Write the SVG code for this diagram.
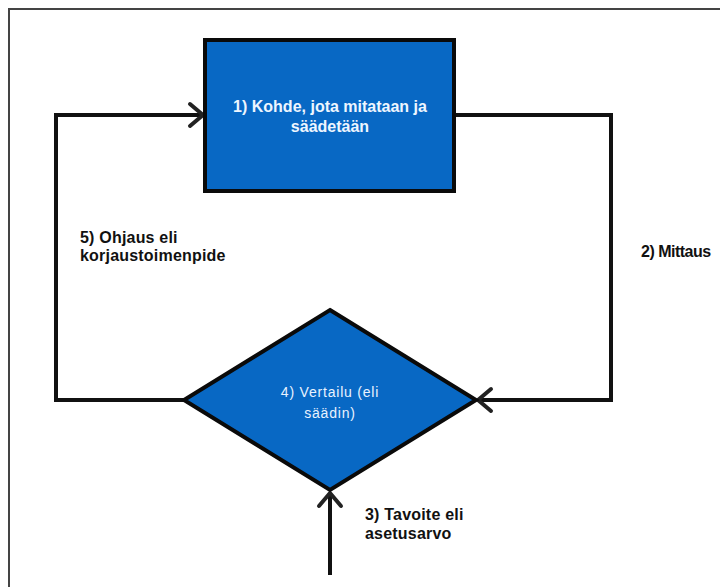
<svg xmlns="http://www.w3.org/2000/svg" width="720" height="587" viewBox="0 0 720 587">
<style>
.conn{fill:none;stroke:#111;stroke-width:4;stroke-linejoin:miter}
.head{fill:none;stroke:#222;stroke-width:4;stroke-linecap:round;stroke-linejoin:round}
.shape{fill:#0868C4;stroke:#0a0a0a;stroke-width:4}
.lbl{font-family:"Liberation Sans",Arial,sans-serif;font-size:16px;font-weight:bold;fill:#111;letter-spacing:0.2px}
.lbl2{font-family:"Liberation Sans",Arial,sans-serif;font-size:16px;font-weight:bold;fill:#111;letter-spacing:-0.5px}
.in{font-family:"Liberation Sans",Arial,sans-serif;font-size:14px;fill:#e8f2ff;text-anchor:middle;letter-spacing:0.8px}
.inb{font-family:"Liberation Sans",Arial,sans-serif;font-size:16px;font-weight:bold;fill:#eef6ff;text-anchor:middle}
</style>
<rect width="720" height="587" fill="#fff"/>
<path d="M9,587 V9 H720" fill="none" stroke="#444" stroke-width="2"/>
<g id="connectors">
<path class="conn" d="M184,400 H56 V115 H203"/>
<path class="head" d="M190,104 L203,115 L190,126"/>
<path class="conn" d="M454,115 H611 V400 H478"/>
<path class="head" d="M491,389 L478,400 L491,411"/>
<path class="conn" d="M330,575 V493"/>
<path class="head" d="M319,506 L330,493 L341,506"/>
</g>
<g id="node1">
<rect class="shape" x="205" y="40" width="249" height="151"/>
<text class="inb" x="330" y="112">1) Kohde, jota mitataan ja</text>
<text class="inb" x="330" y="132">säädetään</text>
</g>
<g id="node4">
<polygon class="shape" points="330,310 476,400 330,490 184,400"/>
<text class="in" x="330" y="397">4) Vertailu (eli</text>
<text class="in" x="330" y="418">säädin)</text>
</g>
<g id="label5">
<text class="lbl" x="80" y="243">5) Ohjaus  eli</text>
<text class="lbl" x="80" y="261">korjaustoimenpide</text>
</g>
<g id="label2">
<text class="lbl2" x="641" y="257">2) Mittaus</text>
</g>
<g id="label3">
<text class="lbl" x="365" y="520">3) Tavoite eli</text>
<text class="lbl" x="365" y="539">asetusarvo</text>
</g>
</svg>
